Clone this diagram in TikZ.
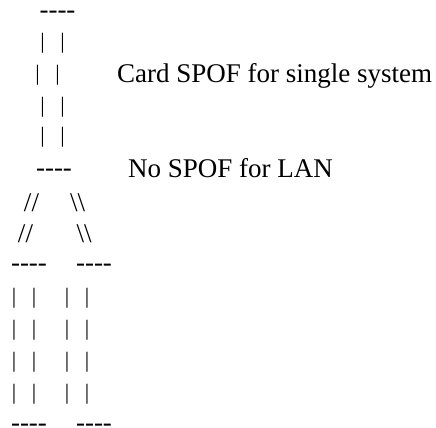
\documentclass[tikz,border=0pt]{standalone}
\usepackage{fontspec}
\newfontfamily\artfont{Liberation Serif}

\tikzset{
	glyph/.style={inner sep=0pt, anchor=base, font={\artfont\fontsize{27bp}{32bp}\selectfont}},
	rail/.style={glyph, font={\artfont\fontsize{22bp}{26bp}\selectfont}},
	note/.style={glyph, anchor=base west}
}
% two bars 20bp apart, node centred between them
\newcommand{\rails}{\makebox[0pt]{|}\hspace{20bp}\makebox[0pt]{|}}
\newcommand{\lid}{-{}-{}-{}-}

\begin{document}
\begin{tikzpicture}[x=1bp,y=-1bp]
\fill[white] (0,0) rectangle (436,427);
\useasboundingbox (0,0) rectangle (436,427);

% upper card
\node (toplid) at (57.5,18.1) [glyph] {\lid};
\node (up1) at (52.7,48.7) [rail] {\rails};
\node (up2) at (47.7,80.2) [rail] {\rails};
\node (up3) at (52.7,112.2) [rail] {\rails};
\node (up4) at (52.7,142.7) [rail] {\rails};
\node (botlid) at (54,176.1) [glyph] {\lid};

\node (single) at (117,82) [note] {Card SPOF for single system};
\node (lan) at (128,177) [note] {No SPOF for LAN};

% split into two legs
\node (ls1) at (31.5,211.9) [glyph] {//};
\node (rs1) at (77.5,211.9) [glyph] {\textbackslash\textbackslash};
\node (ls2) at (25.5,242.4) [glyph] {//};
\node (rs2) at (84,242.4) [glyph] {\textbackslash\textbackslash};

% left leg
\node (lcap) at (29,271.1) [glyph] {\lid};
\node (lr1) at (24,303.7) [rail] {\rails};
\node (lr2) at (24,335.2) [rail] {\rails};
\node (lr3) at (24,367.2) [rail] {\rails};
\node (lr4) at (24,399.2) [rail] {\rails};
\node (lfoot) at (29,431.1) [glyph] {\lid};

% right leg
\node (rcap) at (94,271.1) [glyph] {\lid};
\node (rr1) at (77,303.7) [rail] {\rails};
\node (rr2) at (77,335.2) [rail] {\rails};
\node (rr3) at (77,367.2) [rail] {\rails};
\node (rr4) at (77,399.2) [rail] {\rails};
\node (rfoot) at (94,431.1) [glyph] {\lid};

\end{tikzpicture}
\end{document}
